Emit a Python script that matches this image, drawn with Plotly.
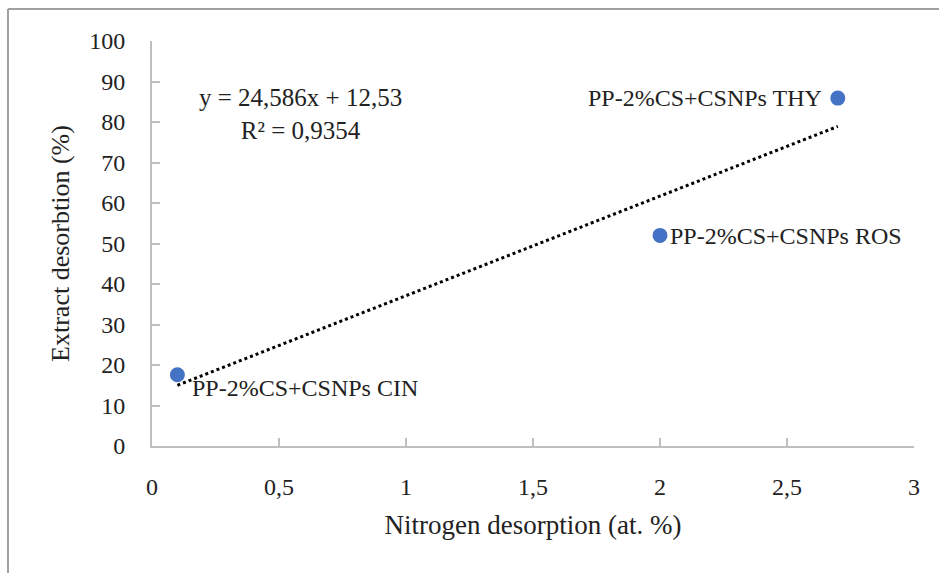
import plotly.graph_objects as go

# Data
labels = ["PP-2%CS+CSNPs CIN", "PP-2%CS+CSNPs ROS", "PP-2%CS+CSNPs THY"]
nitrogen = [0.1, 2.0, 2.7]
extract = [17.6, 52.0, 85.9]
slope = 24.586
intercept = 12.53
r2_text = "0,9354"
x_ticks = [0, 0.5, 1, 1.5, 2, 2.5, 3]
x_tick_labels = ["0", "0,5", "1", "1,5", "2", "2,5", "3"]
y_ticks = [0, 10, 20, 30, 40, 50, 60, 70, 80, 90, 100]

FONT = "Liberation Serif"
AXC = "#bfbfbf"

fig = go.Figure()

# trendline
x0, x1 = min(nitrogen), max(nitrogen)
fig.add_trace(go.Scatter(
    x=[x0, x1], y=[slope * x0 + intercept, slope * x1 + intercept],
    mode="lines", line=dict(color="black", width=3, dash="dot"),
    hoverinfo="skip", showlegend=False))

fig.add_trace(go.Scatter(
    x=nitrogen, y=extract, mode="markers",
    marker=dict(color="#4472C4", size=15),
    showlegend=False))

# data labels
label_pos = [
    dict(xanchor="left", yanchor="middle", xshift=13, yshift=-13),
    dict(xanchor="left", yanchor="middle", xshift=8, yshift=-1),
    dict(xanchor="right", yanchor="middle", xshift=-14, yshift=0),
]
for xv, yv, t, p in zip(nitrogen, extract, labels, label_pos):
    fig.add_annotation(x=xv, y=yv, text=t, showarrow=False,
                       font=dict(family=FONT, size=24, color="#222"), **p)

# equation
fig.add_annotation(x=0.583, y=82, xref="x", yref="y",
                   text=f"y = {str(slope).replace('.', ',')}x + {str(intercept).replace('.', ',')}<br>R² = {r2_text}",
                   showarrow=False, align="center",
                   font=dict(family=FONT, size=25, color="#222"))

# outer border (top and left)
fig.add_shape(type="line", xref="paper", yref="paper",
              x0=-0.189, y0=-0.33, x1=-0.189, y1=1.079,
              line=dict(color="#a0a0a0", width=2))
fig.add_shape(type="line", xref="paper", yref="paper",
              x0=-0.189, y0=1.079, x1=1.05, y1=1.079,
              line=dict(color="#a0a0a0", width=2))

fig.update_layout(
    width=939, height=573,
    margin=dict(l=152, r=25, t=41, b=127),
    plot_bgcolor="white", paper_bgcolor="white",
    font=dict(family=FONT, size=24, color="#222"),
    xaxis=dict(range=[0, 3], tickvals=x_ticks, ticktext=x_tick_labels,
               showgrid=False, zeroline=False, showline=True,
               linecolor=AXC, linewidth=2, ticks="inside", ticklen=8,
               tickcolor=AXC, tickwidth=2, ticklabelstandoff=18,
               tickfont=dict(family=FONT, size=24, color="#222"),
               title=dict(text="Nitrogen desorption (at. %)", standoff=16,
                          font=dict(family=FONT, size=27, color="#222"))),
    yaxis=dict(range=[0, 100], tickvals=y_ticks,
               showgrid=False, zeroline=False, showline=True,
               linecolor=AXC, linewidth=2, ticks="inside", ticklen=8,
               tickcolor=AXC, tickwidth=2, ticklabelstandoff=20,
               tickfont=dict(family=FONT, size=24, color="#222"),
               title=dict(text="Extract desorbtion (%)", standoff=12,
                          font=dict(family=FONT, size=26, color="#222"))),
)

fig.write_html("out.html")
